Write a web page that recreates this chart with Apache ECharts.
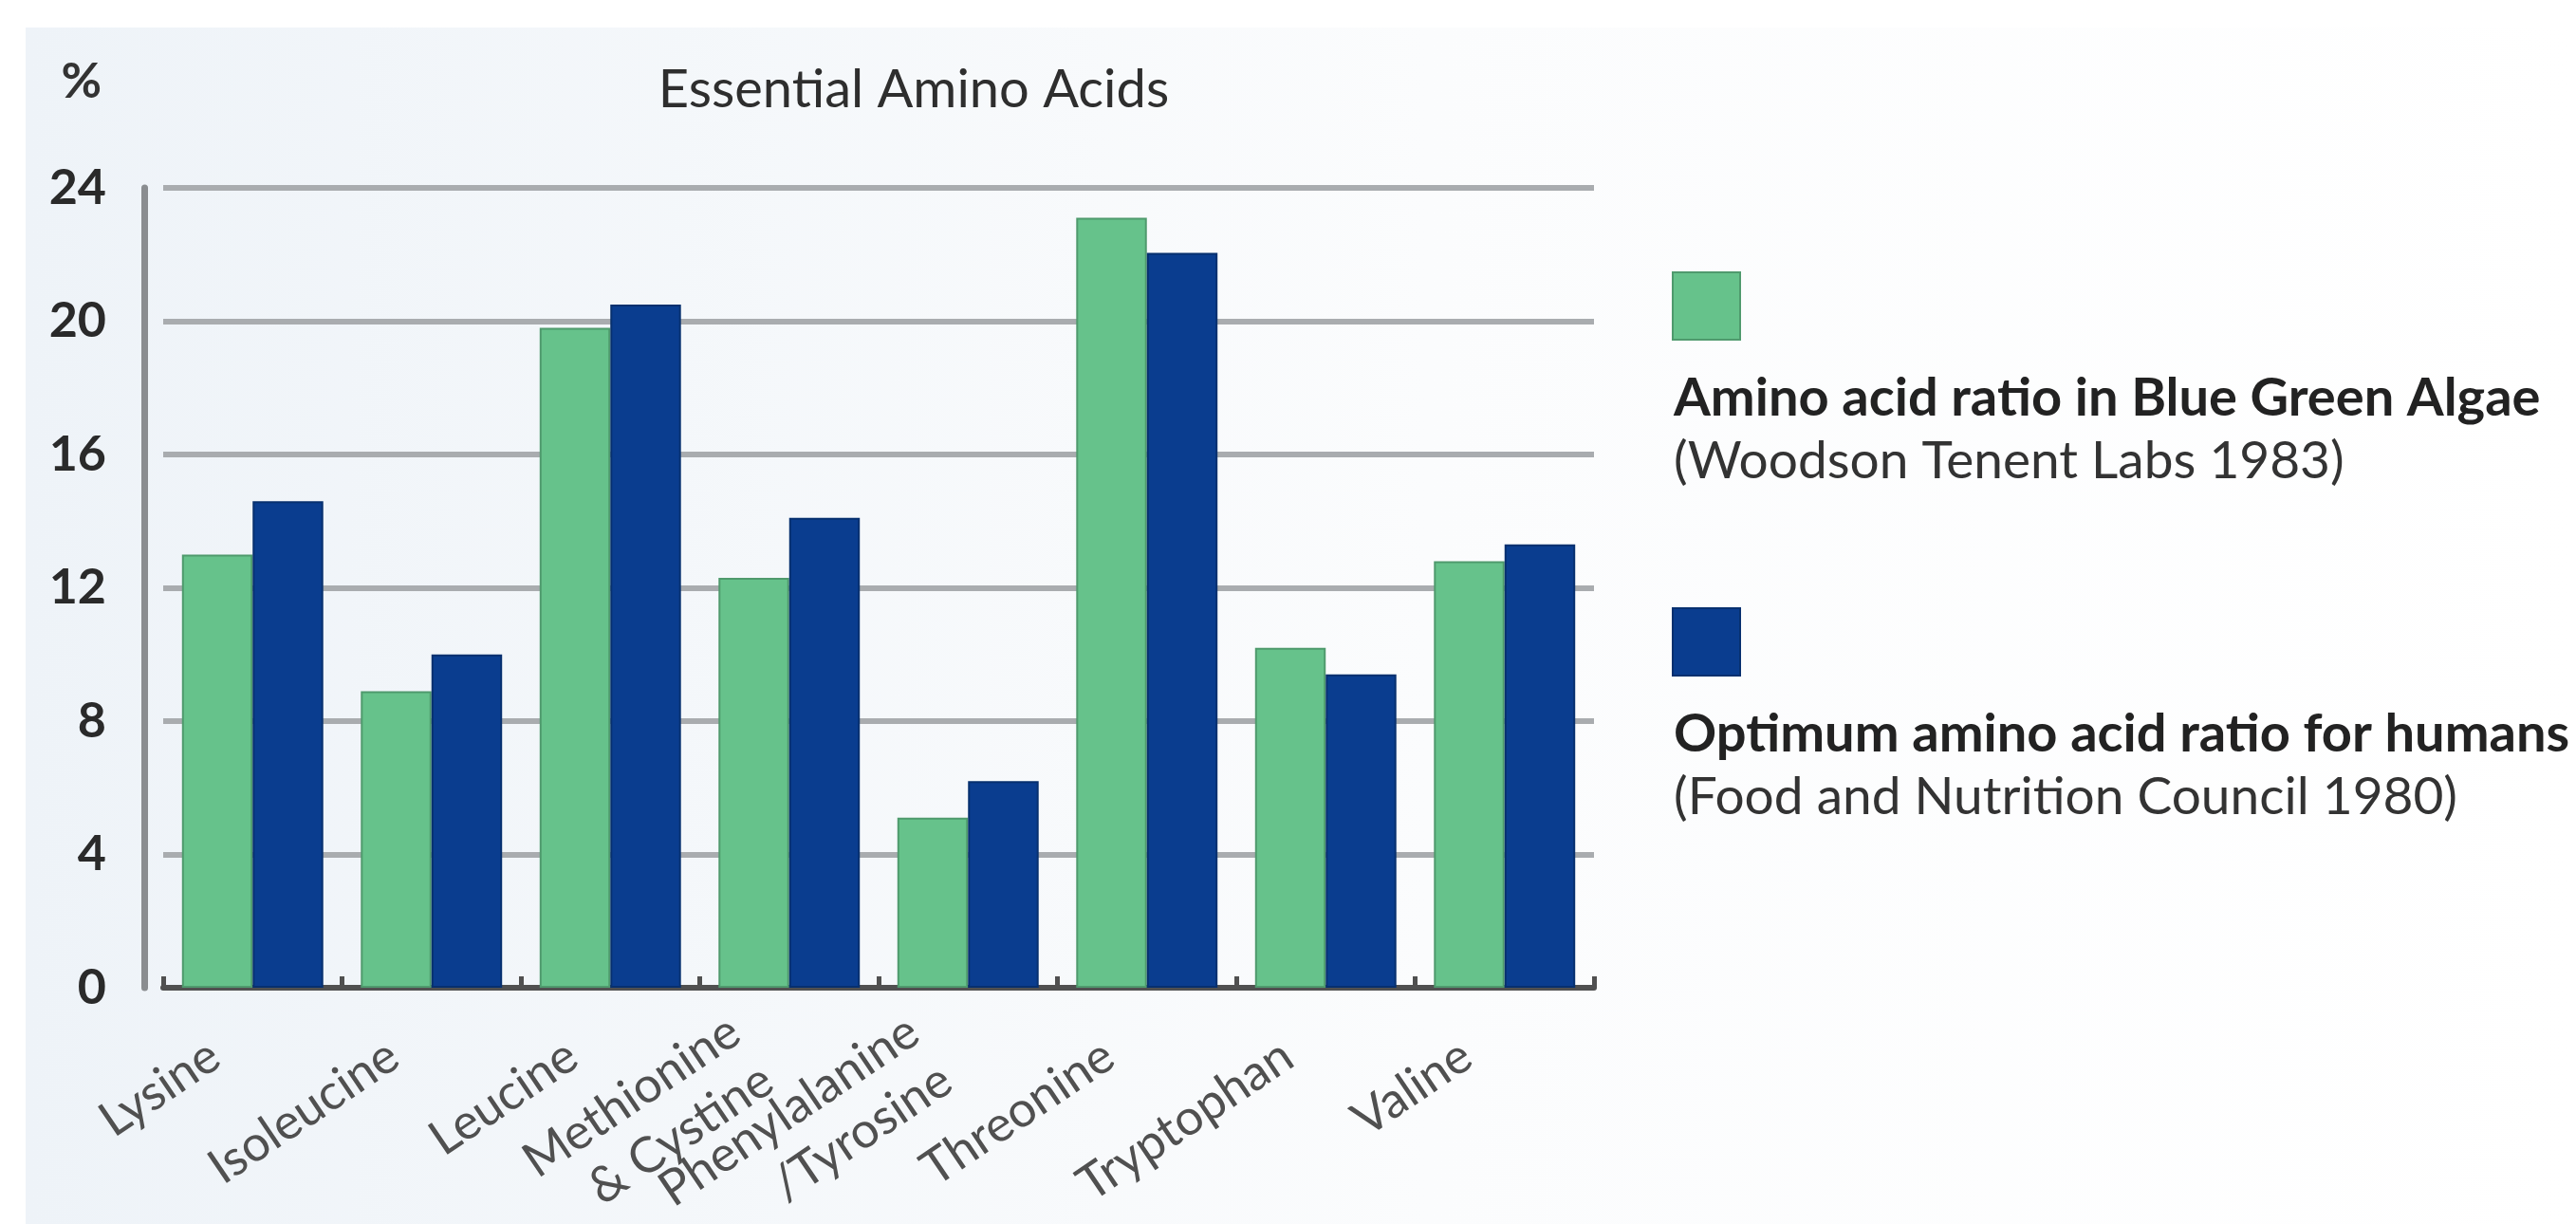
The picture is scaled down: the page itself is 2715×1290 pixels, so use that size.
<!DOCTYPE html>
<html>
<head>
<meta charset="utf-8">
<script src="https://cdn.jsdelivr.net/npm/echarts@6/dist/echarts.min.js"></script>
<style>
html,body{margin:0;padding:0;background:#ffffff;}
#chart{width:2715px;height:1290px;}
</style>
</head>
<body>
<div id="chart"></div>
<script>
var categories = ['Lysine', 'Isoleucine', 'Leucine', 'Methionine\n& Cystine', 'Phenylalanine\n/Tyrosine', 'Threonine', 'Tryptophan', 'Valine'];
var algaeValues = [13.0, 8.9, 19.8, 12.3, 5.1, 23.1, 10.2, 12.8];
var humanValues = [14.6, 10.0, 20.5, 14.1, 6.2, 22.05, 9.4, 13.3];
var yTicks = [0, 4, 8, 12, 16, 20, 24];
var seriesNames = ['Amino acid ratio in Blue Green Algae', 'Optimum amino acid ratio for humans'];
var seriesSources = ['(Woodson Tenent Labs 1983)', '(Food and Nutrition Council 1980)'];
var titleText = 'Essential Amino Acids';
var unitText = '%';

var GREEN = '#66c28b';
var BLUE = '#0a3d8f';

var chart = echarts.init(document.getElementById('chart'));

function legendRich(color, border) {
  return {
    sq: {width: 69, height: 69, lineHeight: 71, backgroundColor: color, borderColor: border, borderWidth: 2},
    sp: {height: 29, lineHeight: 29},
    b: {fontFamily: 'Lato', fontWeight: 'bold', fontSize: 56, lineHeight: 66, color: '#222222'},
    n: {fontFamily: 'Lato', fontSize: 55, lineHeight: 66, color: '#333333'}
  };
}

var option = {
  backgroundColor: '#ffffff',
  animation: false,
  graphic: [{
    type: 'rect',
    silent: true,
    z: -10,
    shape: {x: 27, y: 29, width: 2688, height: 1261},
    style: {
      fill: new echarts.graphic.LinearGradient(0, 0, 1, 0, [
        {offset: 0, color: '#eef3f8'},
        {offset: 0.55, color: '#fbfcfd'},
        {offset: 1, color: '#ffffff'}
      ])
    }
  }],
  title: {
    text: titleText,
    left: 958,
    textAlign: 'center',
    top: 62,
    textStyle: {fontFamily: 'Lato', fontSize: 56, fontWeight: 'normal', color: '#2e2e2e'}
  },
  legend: [{
    data: [seriesNames[0]],
    left: 1753,
    top: 281,
    itemWidth: 0,
    itemHeight: 0,
    icon: 'rect',
    selectedMode: false,
    formatter: function (name) {
      return '{sq|}\n{sp|}\n{b|' + name + '}\n{n|' + seriesSources[0] + '}';
    },
    textStyle: {rich: legendRich(GREEN, '#4f9a6d')}
  }, {
    data: [seriesNames[1]],
    left: 1753,
    top: 635,
    itemWidth: 0,
    itemHeight: 0,
    icon: 'rect',
    selectedMode: false,
    formatter: function (name) {
      return '{sq|}\n{sp|}\n{b|' + name + '}\n{n|' + seriesSources[1] + '}';
    },
    textStyle: {rich: legendRich(BLUE, '#07306f')}
  }],
  grid: {left: 172, top: 198, width: 1508, bottom: 249, containLabel: false, outerBoundsMode: 'none'},
  xAxis: {
    type: 'category',
    data: categories,
    boundaryGap: true,
    axisLine: {show: true, lineStyle: {color: '#505050', width: 6}},
    axisTick: {show: true, inside: true, length: 12, lineStyle: {color: '#505050', width: 5}},
    axisLabel: {
      interval: 0,
      rotate: 34,
      margin: 40,
      padding: [0, 48, 0, 0],
      fontFamily: 'Lato',
      fontSize: 52,
      lineHeight: 62,
      color: '#505050'
    }
  },
  yAxis: {
    type: 'value',
    min: yTicks[0],
    max: yTicks[yTicks.length - 1],
    interval: yTicks[1] - yTicks[0],
    offset: 20,
    name: unitText,
    nameLocation: 'end',
    nameGap: 112,
    nameTextStyle: {fontFamily: 'Lato', fontSize: 52, fontWeight: 'bold', color: '#333333', align: 'right', verticalAlign: 'middle', padding: [0, 45, 0, 0]},
    axisLine: {show: true, lineStyle: {color: '#8a8d90', width: 7}},
    axisTick: {show: false},
    axisLabel: {margin: 40, fontFamily: 'Lato', fontSize: 52, fontWeight: 'bold', color: '#2a2a2a'},
    splitLine: {show: true, lineStyle: {color: '#a9acaf', width: 6}}
  },
  series: [{
    name: seriesNames[0],
    type: 'bar',
    data: algaeValues,
    barGap: '0%',
    barCategoryGap: '21%',
    itemStyle: {color: GREEN, borderColor: '#4f9a6d', borderWidth: 2}
  }, {
    name: seriesNames[1],
    type: 'bar',
    data: humanValues,
    barGap: '0%',
    barCategoryGap: '21%',
    itemStyle: {color: BLUE, borderColor: '#07306f', borderWidth: 2}
  }]
};
chart.setOption(option);
</script>
</body>
</html>
